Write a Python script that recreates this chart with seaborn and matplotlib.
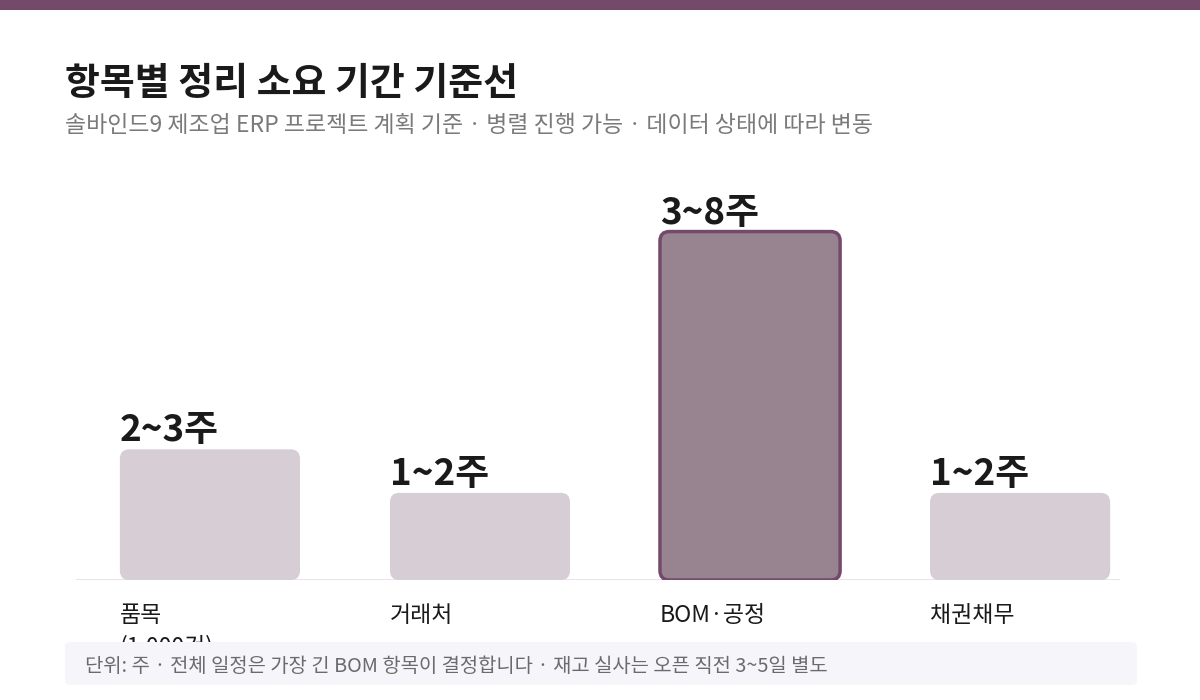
import matplotlib
matplotlib.use("Agg")
import matplotlib.pyplot as plt
from matplotlib.patches import FancyBboxPatch, Rectangle
import seaborn as sns

# data
categories = ["품목", "거래처", "BOM·공정", "채권채무"]
tick_labels = ["품목\n(1,000건)", "거래처", "BOM·공정", "채권채무"]
max_weeks = [3, 2, 8, 2]
value_labels = ["2~3주", "1~2주", "3~8주", "1~2주"]
highlight = "BOM·공정"

title = "항목별 정리 소요 기간 기준선"
subtitle = "솔바인드9 제조업 ERP 프로젝트 계획 기준 · 병렬 진행 가능 · 데이터 상태에 따라 변동"
footnote = "단위: 주 · 전체 일정은 가장 긴 BOM 항목이 결정합니다 · 재고 실사는 오픈 직전 3~5일 별도"

accent = "#734a6a"
light = "#d8ccd5"
mid = "#9b8092"

sns.set_theme(style="white")
plt.rcParams['font.family'] = ['Noto Sans CJK KR', 'DejaVu Sans']

fig = plt.figure(figsize=(12, 7), dpi=100)
fig.patch.set_facecolor("white")

# top band
fig.patches.append(Rectangle((0, 690/700), 1, 10/700, transform=fig.transFigure,
                             facecolor=accent, edgecolor="none", zorder=0))

fig.text(65/1200, 1 - 84/700, title, fontsize=27.3, fontweight="bold", color="#1a1a1a", va="center")
fig.text(65/1200, 1 - 126/700, subtitle, fontsize=16.5, color="#7a7a7a", va="center")

# axes: baseline at y=580px, 43.6 px per week
ax = fig.add_axes([76/1200, 120/700, (1120 - 76)/1200, 392/700])
colors = [mid if c == highlight else light for c in categories]
sns.barplot(x=categories, y=max_weeks, hue=categories, palette=colors,
            legend=False, width=0.667, ax=ax)
ax.set_xlim(-0.496, 3.37)
ax.set_ylim(0, 9)
ax.axis("off")
ax.axhline(0, color="#e3e0e8", lw=2, zorder=1)

# swap plain bars for rounded ones
bars = sorted(ax.patches, key=lambda p: p.get_x())
for p in bars:
    p.set_visible(False)
for i, p in enumerate(bars):
    is_hl = categories[i] == highlight
    box = FancyBboxPatch((p.get_x(), p.get_y()), p.get_width(), p.get_height(),
                         boxstyle="round,pad=0,rounding_size=0.035",
                         mutation_aspect=6.2,
                         facecolor=p.get_facecolor(),
                         edgecolor=accent if is_hl else "none",
                         linewidth=2.5 if is_hl else 0, zorder=2)
    ax.add_patch(box)
    ax.annotate(value_labels[i], (p.get_x(), p.get_height()),
                xytext=(0, 0), textcoords="offset points",
                ha="left", va="bottom", fontsize=26.5, fontweight="bold", color="#1a1a1a")
    ax.annotate(tick_labels[i], (p.get_x(), 0), xytext=(0, -17), textcoords="offset points",
                ha="left", va="top", fontsize=16.5, color="#1a1a1a", linespacing=1.45,
                annotation_clip=False)

# footnote box covers the overflow of the first label
fig.patches.append(FancyBboxPatch((65/1200, 15/700), (1137 - 65)/1200, 43/700,
                                  boxstyle="round,pad=0,rounding_size=0.006",
                                  transform=fig.transFigure, facecolor="#f6f5f9",
                                  edgecolor="none", zorder=5))
fig.text(85/1200, 1 - 667/700, footnote, fontsize=14.3, color="#6b6b6b", va="center", zorder=6)

fig.savefig("out.png", dpi=100)
